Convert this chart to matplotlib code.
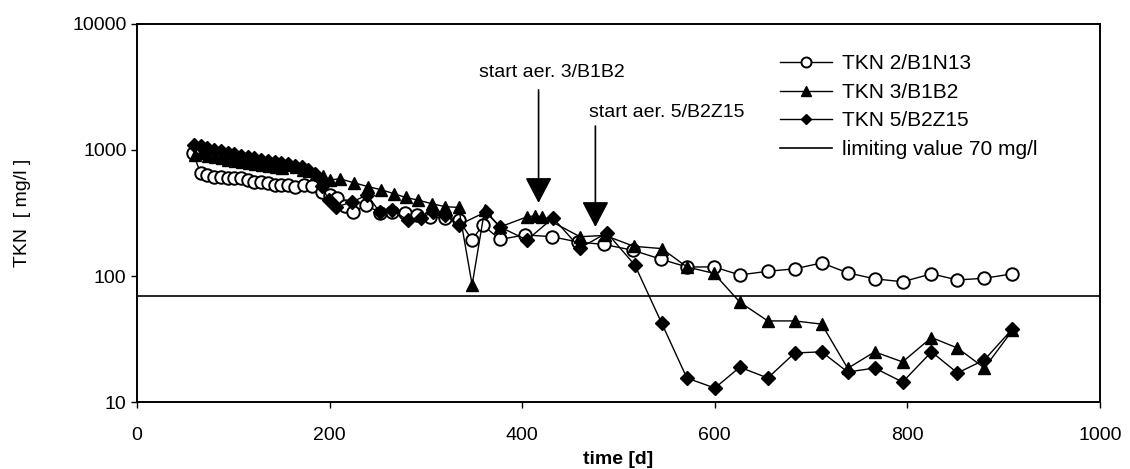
import matplotlib
matplotlib.use("Agg")
import matplotlib.pyplot as plt
from matplotlib import font_manager

# TKN 2/B1N13 (open circles)
days_2 = [58, 66, 73, 80, 87, 94, 101, 108, 115, 122,
          129, 136, 143, 150, 157, 164, 173, 182, 192, 200,
          208, 216, 224, 238, 252, 265, 278, 291, 304, 320,
          334, 348, 359, 377, 403, 431, 458, 485, 515, 544,
          571, 599, 626, 655, 683, 711, 738, 766, 795, 825,
          852, 880, 909]
tkn_2 = [950, 656, 630, 610, 610, 600, 600, 600, 578, 557,
         557, 547, 527, 527, 527, 508, 527, 520, 464, 440,
         415, 360, 322, 366, 318, 320, 316, 305, 294, 289,
         280, 193, 254, 195, 212, 205, 186, 178, 160, 136,
         118, 118, 102, 109, 114, 127, 106, 95, 90, 104,
         93, 96, 104]

# TKN 3/B1B2 (filled triangles)
days_3 = [60, 67, 74, 81, 88, 95, 102, 109, 116, 123,
          130, 137, 144, 151, 158, 165, 172, 179, 186, 193,
          200, 211, 225, 240, 253, 267, 279, 292, 306, 320,
          334, 348, 361, 377, 405, 413, 421, 460, 486, 516,
          545, 571, 599, 626, 655, 683, 711, 738, 766, 795,
          825, 852, 880, 909]
tkn_3 = [920, 950, 900, 880, 860, 840, 820, 800, 790, 770,
         760, 740, 730, 720, 760, 730, 700, 680, 650, 620,
         580, 590, 550, 512, 485, 450, 420, 400, 375, 355,
         350, 85, 335, 245, 295, 300, 295, 205, 210, 172,
         165, 118, 105, 62, 44, 44, 41.5, 18.5, 25, 20.8,
         32.5, 26.8, 18.6, 37]

# TKN 5/B2Z15 (filled diamonds)
days_5 = [59, 66, 73, 80, 87, 94, 101, 108, 115, 122,
          129, 136, 143, 150, 157, 164, 171, 178, 185, 192,
          199, 207, 223, 239, 252, 265, 281, 295, 307, 320,
          334, 362, 377, 405, 432, 460, 488, 517, 545, 571,
          600, 626, 655, 683, 711, 738, 766, 795, 825, 852,
          880, 909]
tkn_5 = [1100, 1080, 1030, 1000, 980, 950, 930, 900, 880, 860,
         840, 820, 800, 790, 770, 750, 730, 700, 640, 520,
         400, 353, 386, 440, 322, 333, 278, 289, 322, 305,
         254, 322, 245, 193, 289, 167, 220, 122, 42, 15.5,
         12.9, 18.9, 15.5, 24.5, 25, 17.3, 18.6, 14.4, 25, 17,
         21.6, 38]

limit_value = 70

# start of aeration (day, value at arrow tip)
aer_labels = ["start aer. 3/B1B2", "start aer. 5/B2Z15"]
aer_days = [417, 476]
aer_tips = [380, 245]

names = {f.name for f in font_manager.fontManager.ttflist}
narrow = "Liberation Sans Narrow" if "Liberation Sans Narrow" in names else "Liberation Sans"
plt.rcParams["font.family"] = ["Liberation Sans", "DejaVu Sans"]
plt.rcParams["font.size"] = 14

fig = plt.figure(figsize=(11.3, 4.69), dpi=100)
ax = fig.add_axes([137 / 1130, 67 / 469, 963 / 1130, 378 / 469])

ax.plot(days_2, tkn_2, "-o", color="black", mfc="white", mec="black",
        ms=9, mew=1.4, lw=1.0, label="TKN 2/B1N13", zorder=3)
ax.plot(days_3, tkn_3, "-^", color="black", ms=9, lw=1.0,
        label="TKN 3/B1B2", zorder=4)
ax.plot(days_5, tkn_5, "-D", color="black", ms=7, lw=1.0,
        label="TKN 5/B2Z15", zorder=5)
ax.axhline(limit_value, color="black", lw=1.2, label="limiting value 70 mg/l")

ax.set_yscale("log")
ax.set_xlim(0, 1000)
ax.set_ylim(10, 10000)
ax.set_yticks([10, 100, 1000, 10000])
ax.set_yticklabels(["10", "100", "1000", "10000"])
ax.minorticks_off()
ax.set_xticks(range(0, 1001, 200))
ax.tick_params(length=4, width=1, direction="out", labelsize=14)
ax.tick_params(axis="x", pad=14)
for lab in ax.get_xticklabels():
    lab.set_family(narrow)
for sp in ax.spines.values():
    sp.set_linewidth(1.4)

ax.set_xlabel("time [d]", fontweight="bold", family=narrow, fontsize=14)
ax.xaxis.set_label_coords(0.5, -0.13)
ax.set_ylabel("TKN  [ mg/l ]")
ax.yaxis.set_label_coords(-0.11, 0.5)

# arrows for start of aeration
text_pos = [(507, 4100), (631, 2000)]
arrow_top = [3000, 1550]
for lab, d, tip, tp, top in zip(aer_labels, aer_days, aer_tips, text_pos, arrow_top):
    ax.text(tp[0], tp[1], lab, ha="right", va="center")
    ax.annotate("", xy=(d, tip), xytext=(d, top),
                arrowprops=dict(arrowstyle="-|>,head_length=0.8,head_width=0.42",
                                mutation_scale=20, color="black", lw=1.2,
                                shrinkA=0, shrinkB=0))

ax.legend(loc="upper left", bbox_to_anchor=(0.668, 0.92), frameon=False,
          handlelength=2.5, handletextpad=0.45, labelspacing=0.46,
          borderpad=0, borderaxespad=0, fontsize=15, markerscale=0.8)

fig.savefig("out.png", dpi=100)
